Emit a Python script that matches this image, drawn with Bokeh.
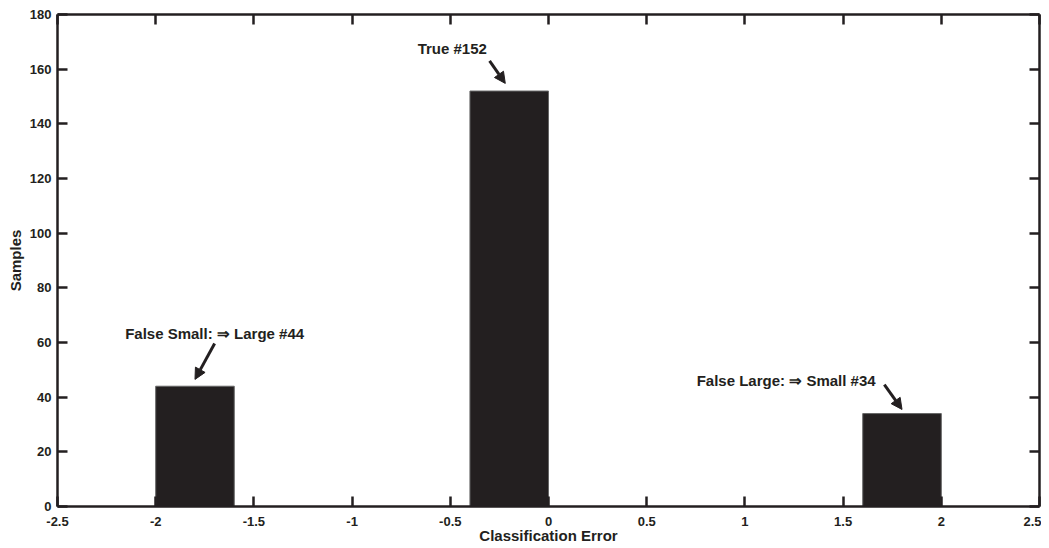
from bokeh.plotting import figure
from bokeh.models import Arrow, NormalHead, Label, LinearAxis, Range1d, FixedTicker, CustomJSTickFormatter
from bokeh.embed import file_html
from bokeh.resources import INLINE

# Histogram data
bin_left = [-2.0, -1.6, -1.2, -0.8, -0.4, 0.0, 0.4, 0.8, 1.2, 1.6]
bin_right = [-1.6, -1.2, -0.8, -0.4, 0.0, 0.4, 0.8, 1.2, 1.6, 2.0]
counts = [44, 0, 0, 0, 152, 0, 0, 0, 0, 34]
bin_bottom = [0] * len(counts)

x_ticks = [-2.5, -2, -1.5, -1, -0.5, 0, 0.5, 1, 1.5, 2, 2.5]
y_ticks = [0, 20, 40, 60, 80, 100, 120, 140, 160, 180]

ann_texts = ["True #152", "False Small: \u21d2 Large #44", "False Large: \u21d2 Small #34"]

DARK = "#231f20"
FONT = "Liberation Sans"

p = figure(frame_width=982, frame_height=492, output_backend="svg", toolbar_location=None,
           x_range=Range1d(-2.5, 2.5), y_range=Range1d(0, 180),
           min_border_left=57, min_border_top=14, min_border_right=2, min_border_bottom=0)
p.background_fill_color = "white"
p.border_fill_color = "white"
p.outline_line_color = None
p.grid.visible = False

p.quad(left=bin_left, right=bin_right, top=counts, bottom=bin_bottom,
       fill_color=DARK, line_color="#666666", line_width=1)

def style_axis(ax, ticks, labels=True):
    ax.ticker = FixedTicker(ticks=ticks)
    ax.axis_line_color = DARK
    ax.axis_line_width = 2.5
    ax.major_tick_line_color = DARK
    ax.major_tick_line_width = 2.5
    ax.major_tick_in = 10
    ax.major_tick_out = 0
    ax.minor_tick_line_color = None
    ax.major_label_text_font = FONT
    ax.major_label_text_font_style = "bold"
    ax.major_label_text_font_size = "13px"
    ax.major_label_text_color = DARK
    ax.axis_label_text_font = FONT
    ax.axis_label_text_font_style = "bold"
    ax.axis_label_text_font_size = "15px"
    ax.axis_label_text_color = DARK
    if labels:
        ax.formatter = CustomJSTickFormatter(code="return tick.toString()")
    else:
        ax.formatter = CustomJSTickFormatter(code="return ''")
        ax.major_label_standoff = 0

xa = p.xaxis[0]
style_axis(xa, x_ticks)
xa.axis_label = "Classification Error"
xa.major_label_standoff = 10
xa.axis_label_standoff = -2
ya = p.yaxis[0]
style_axis(ya, y_ticks)
ya.axis_label = "Samples"
ya.major_label_standoff = 6
ya.axis_label_standoff = 3

top_ax = LinearAxis()
style_axis(top_ax, x_ticks, labels=False)
p.add_layout(top_ax, "above")
right_ax = LinearAxis()
style_axis(right_ax, y_ticks, labels=False)
p.add_layout(right_ax, "right")

# Annotations
label_pos = [(-0.49, 167.5), (-1.70, 63.3), (1.21, 46.2)]
arrows = [(-0.30, 163.0, -0.22, 154.8), (-1.70, 59.6, -1.80, 46.5), (1.71, 44.6, 1.80, 35.5)]
for t, (lx, ly) in zip(ann_texts, label_pos):
    p.add_layout(Label(x=lx, y=ly, text=t, text_align="center", text_baseline="middle",
                       text_font=FONT, text_font_style="bold", text_font_size="15px",
                       text_color=DARK))
for (x0, y0, x1, y1) in arrows:
    p.add_layout(Arrow(x_start=x0, y_start=y0, x_end=x1, y_end=y1, line_width=3,
                       line_color=DARK,
                       end=NormalHead(size=11, fill_color=DARK, line_color=DARK, line_width=1)))

open("out.html", "w").write(file_html(p, INLINE))
